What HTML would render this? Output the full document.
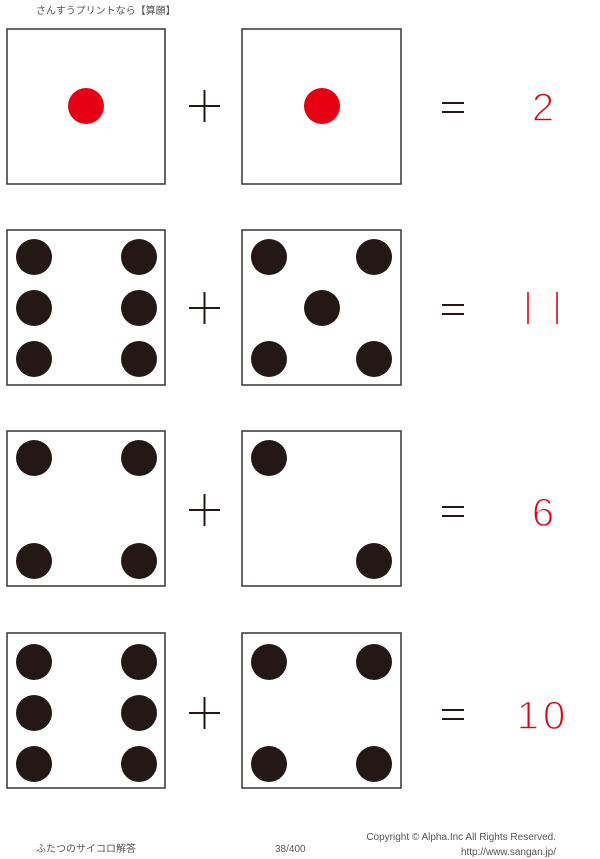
<!DOCTYPE html>
<html><head><meta charset="utf-8"><style>
body{margin:0;background:#fff;}
svg{display:block;}
</style></head><body>
<svg width="600" height="859" xmlns="http://www.w3.org/2000/svg" font-family="Liberation Sans, Noto Sans CJK JP, sans-serif">
<text x="36" y="14" font-size="10" fill="#555">さんすうプリントなら【算願】</text>
<g fill="#fff" stroke="#3a3330" stroke-width="1.5">
<rect x="7" y="29" width="158" height="155"/><rect x="242" y="29" width="159" height="155"/>
<rect x="7" y="230" width="158" height="155"/><rect x="242" y="230" width="159" height="155"/>
<rect x="7" y="431" width="158" height="155"/><rect x="242" y="431" width="159" height="155"/>
<rect x="7" y="633" width="158" height="155"/><rect x="242" y="633" width="159" height="155"/>
</g>
<g fill="#e60012"><circle cx="86" cy="106" r="18"/><circle cx="322" cy="106" r="18"/></g>
<g fill="#231815">
<circle cx="34" cy="257" r="18"/><circle cx="139" cy="257" r="18"/><circle cx="34" cy="308" r="18"/><circle cx="139" cy="308" r="18"/><circle cx="34" cy="359" r="18"/><circle cx="139" cy="359" r="18"/>
<circle cx="269" cy="257" r="18"/><circle cx="374" cy="257" r="18"/><circle cx="322" cy="308" r="18"/><circle cx="269" cy="359" r="18"/><circle cx="374" cy="359" r="18"/>
<circle cx="34" cy="458" r="18"/><circle cx="139" cy="458" r="18"/><circle cx="34" cy="561" r="18"/><circle cx="139" cy="561" r="18"/>
<circle cx="269" cy="458" r="18"/><circle cx="374" cy="561" r="18"/>
<circle cx="34" cy="662" r="18"/><circle cx="139" cy="662" r="18"/><circle cx="34" cy="713" r="18"/><circle cx="139" cy="713" r="18"/><circle cx="34" cy="764" r="18"/><circle cx="139" cy="764" r="18"/>
<circle cx="269" cy="662" r="18"/><circle cx="374" cy="662" r="18"/><circle cx="269" cy="764" r="18"/><circle cx="374" cy="764" r="18"/>
</g>
<g stroke="#231815" stroke-width="2">
<path d="M189 106h31M204.5 90v32"/><path d="M189 308h31M204.5 292v32"/><path d="M189 510h31M204.5 494v32"/><path d="M189 713h31M204.5 697v32"/>
<path d="M442 103h22M442 112h22"/><path d="M442 305h22M442 314h22"/><path d="M442 507h22M442 516h22"/><path d="M442 710h22M442 719h22"/>
</g>
<g fill="#e60012" font-size="40" text-anchor="middle" stroke="#fff" stroke-width="1.4">
<text x="543" y="121">2</text>
<path d="M528 292v32M557 292v32" stroke="#e60012" stroke-width="1.6" fill="none"/>
<text x="543" y="526">6</text><text x="543" y="729" letter-spacing="4">10</text>
</g>
<text x="36" y="852" font-size="10" fill="#555">ふたつのサイコロ解答</text>
<text x="275" y="852" font-size="10" fill="#555">38/400</text>
<text x="556" y="840" font-size="10" fill="#555" text-anchor="end">Copyright ©  Alpha.Inc All Rights Reserved.</text>
<text x="556" y="855" font-size="10" fill="#555" text-anchor="end">http://www.sangan.jp/</text>
</svg>
</body></html>
